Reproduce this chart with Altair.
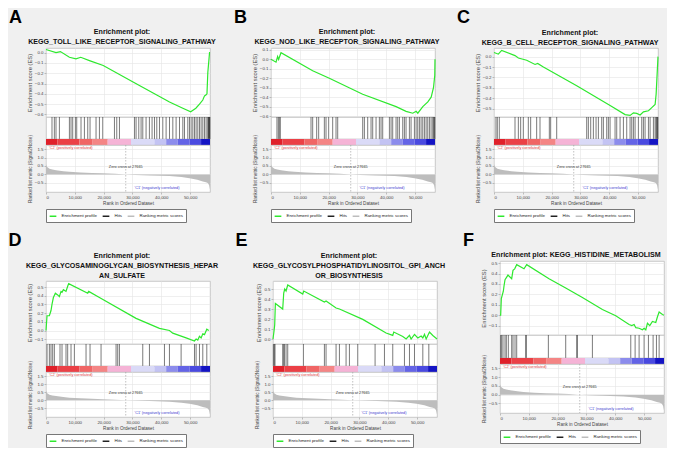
import altair as alt
import pandas as pd

FONT = "Liberation Sans"
N_GENES = 56900
ZERO_CROSS = 27665

rank_ticks = [0, 10000, 20000, 30000, 40000, 50000]
metric_ticks = [-0.5, 0.0, 0.5, 1.0, 1.5]
metric_domain = [-1.05, 1.75]

# ranked list metric (Signal2Noise) shared by all panels
metric_rank = [0, 300, 1200, 2200, 3500, 6000, 8100, 12000, 16000, 19700, 24000, 27665,
               31000, 36000, 42850, 47000, 49800, 52500, 54400, 55500, 56150, 56600, 56900]
metric_value = [0.6, 0.45, 0.34, 0.29, 0.25, 0.19, 0.15, 0.11, 0.085, 0.06, 0.03, 0.0,
                -0.03, -0.06, -0.1, -0.16, -0.23, -0.32, -0.42, -0.47, -0.52, -0.65, -0.9]

# colour bar (phenotype gradient)
bar_start = [0, 4000, 11600, 16000, 21400, 29500, 37600, 41700, 45700, 49800, 53800]
bar_end = [4000, 11600, 16000, 21400, 29500, 37600, 41700, 45700, 49800, 53800, 56900]
bar_color = ["#e0202a", "#eb4046", "#f06565", "#f48585", "#f5b3d6", "#dadaf7",
             "#c3c3f3", "#8c8cec", "#6464e6", "#4a4ae0", "#1414c4"]

SERIES = ["Enrichment profile", "Hits", "Ranking metric scores"]
SERIES_COLORS = ["#2ee82e", "#222222", "#bdbdbd"]

# annotation labels on the ranked-list panel
note_text = ["'C2' (positively correlated)", "Zero cross at 27665", "'C1' (negatively correlated)"]
note_rank = [8600, 27665, 38500]
note_metric = [1.58, 0.45, -0.8]
note_color = ["#e03c3c", "#333333", "#4040d0"]

# ---------------- panel A
A_title = ["Enrichment plot:", "KEGG_TOLL_LIKE_RECEPTOR_SIGNALING_PATHWAY"]
A_es_rank = [0, 3470, 5000, 8130, 10400, 12050, 15070, 19860, 31150, 42850, 47470, 50200,
             51990, 53250, 54400, 55000, 55560, 55850, 56150, 56740, 56900]
A_es_score = [0.03, 0.0, 0.01, -0.045, -0.06, -0.045, -0.077, -0.125, -0.30, -0.48, -0.54, -0.574,
              -0.54, -0.5, -0.46, -0.42, -0.41, -0.40, -0.19, 0.0, 0.0]
A_hits = [2080, 2900, 3470, 4650, 8120, 8680, 9270, 10200, 10660, 12150, 13330, 14480, 15280,
          17360, 18540, 19690, 23750, 24550, 25490, 30690, 31250, 32190, 32990, 33580, 34720,
          35880, 36800, 37640, 38440, 39370, 40520, 41670, 42850, 44000, 45140, 46320, 47470,
          48050, 49200, 49790, 50350, 50940, 51520, 52080, 52670, 53260, 53820, 54410, 55000,
          55560, 56150, 56300, 56450, 56600, 56750, 56850]
A_domain = [-0.625, 0.045]
A_ticks = [-0.6, -0.5, -0.4, -0.3, -0.2, -0.1, 0.0]

# ---------------- panel B
B_title = ["Enrichment plot:", "KEGG_NOD_LIKE_RECEPTOR_SIGNALING_PATHWAY"]
B_es_rank = [0, 1740, 2300, 2640, 3470, 14460, 20240, 31820, 43400, 46870, 49190, 50350,
             50930, 52670, 54420, 55570, 56370, 56820, 56900]
B_es_score = [0.0, -0.03, 0.03, 0.0, 0.07, -0.12, -0.2, -0.37, -0.5, -0.55, -0.57, -0.55,
              -0.57, -0.5, -0.45, -0.4, -0.3, -0.17, 0.0]
B_hits = [2070, 2540, 2890, 3240, 13880, 14460, 15850, 16540, 18510, 19090, 20010, 21400,
          22560, 23140, 31820, 32400, 33550, 34710, 35290, 36450, 37600, 38180, 38760, 41080,
          41660, 42230, 43390, 43970, 44550, 45710, 46290, 46860, 48020, 48600, 49760, 50340,
          50910, 51490, 52070, 52650, 53230, 53810, 54390, 54970, 55540, 56120, 56400, 56700, 56850]
B_domain = [-0.61, 0.12]
B_ticks = [-0.6, -0.5, -0.4, -0.3, -0.2, -0.1, 0.0, 0.1]

# ---------------- panel C
C_title = ["Enrichment plot:", "KEGG_B_CELL_RECEPTOR_SIGNALING_PATHWAY"]
C_es_rank = [0, 930, 1500, 2660, 7290, 8450, 11340, 14240, 15160, 17130, 28700, 40280, 45490,
             47220, 48380, 49540, 50690, 51850, 53590, 54740, 55900, 56250, 56900]
C_es_score = [0.04, 0.03, 0.025, 0.06, 0.01, -0.013, -0.035, -0.075, -0.065, -0.1, -0.28, -0.47,
              -0.557, -0.565, -0.54, -0.545, -0.56, -0.53, -0.52, -0.49, -0.46, -0.36, 0.0]
C_hits = [680, 1150, 1840, 7290, 8450, 9250, 10180, 11910, 12720, 14800, 15960, 19200, 19660,
          21750, 32160, 32740, 33550, 34480, 35410, 36220, 37370, 37950, 39110, 39690, 40270,
          42000, 42580, 43740, 44900, 46050, 47210, 47790, 48370, 48950, 50100, 51260, 51840,
          52420, 53580, 54160, 55310, 55890, 56250, 56470, 56700, 56850]
C_domain = [-0.58, 0.083]
C_ticks = [-0.5, -0.4, -0.3, -0.2, -0.1, 0.0]

# ---------------- panel D
D_title = ["Enrichment plot:", "KEGG_GLYCOSAMINOGLYCAN_BIOSYNTHESIS_HEPAR", "AN_SULFATE"]
D_es_rank = [0, 360, 1170, 1740, 2080, 2560, 3250, 4050, 4640, 5210, 5560, 6030, 6480, 6940,
             7520, 7870, 14480, 14820, 18530, 31250, 39360, 42830, 43980, 48610, 51520, 52080,
             52660, 53250, 53820, 54400, 54990, 55790, 56480]
D_es_score = [0.0, 0.17, 0.17, 0.23, 0.30, 0.38, 0.43, 0.41, 0.39, 0.45, 0.44, 0.47, 0.46, 0.45,
              0.51, 0.54, 0.43, 0.45, 0.38, 0.14, 0.025, 0.0, -0.03, -0.085, -0.12, -0.097,
              -0.11, -0.067, -0.085, -0.037, -0.047, 0.015, 0.0]
D_hits = [360, 1170, 1740, 2320, 2900, 4860, 5560, 6940, 7520, 8680, 9850, 13890, 15280, 19100,
          24310, 24880, 25470, 33570, 35890, 41100, 42830, 46880, 51520, 52080, 53250, 54400, 55790]
D_domain = [-0.155, 0.57]
D_ticks = [-0.1, 0.0, 0.1, 0.2, 0.3, 0.4, 0.5]

# ---------------- panel E
E_title = ["Enrichment plot:", "KEGG_GLYCOSYLPHOSPHATIDYLINOSITOL_GPI_ANCH", "OR_BIOSYNTHESIS"]
E_es_rank = [0, 360, 590, 820, 3370, 3720, 4070, 4530, 5110, 10320, 10660, 17840, 18410, 21880,
             23050, 31150, 39240, 41550, 41900, 45030, 46190, 47350, 47920, 49090, 50240, 51400,
             51980, 52560, 53140, 54290, 55450, 56900]
E_es_score = [0.0, 0.08, 0.14, 0.355, 0.30, 0.46, 0.50, 0.48, 0.54, 0.45, 0.48, 0.37, 0.38, 0.31,
              0.30, 0.196, 0.06, 0.036, 0.07, 0.025, 0.0, 0.036, 0.0, 0.046, 0.01, 0.03, 0.01,
              0.046, 0.0, 0.07, 0.035, 0.0]
E_hits = [130, 480, 700, 3370, 3720, 3950, 4530, 5110, 10550, 17840, 18410, 21880, 23050, 25350,
          26520, 29400, 35420, 38670, 41550, 45610, 47350, 49090, 51980, 54060]
E_domain = [-0.05, 0.58]
E_ticks = [0.0, 0.1, 0.2, 0.3, 0.4, 0.5]

# ---------------- panel F
F_title = ["Enrichment plot: KEGG_HISTIDINE_METABOLISM"]
F_es_rank = [0, 230, 460, 1160, 1390, 1740, 2780, 4050, 4510, 5090, 5790, 8330, 9260, 17010,
             22800, 28590, 35530, 40160, 44790, 45720, 46530, 47110, 48260, 49420, 50000, 50580,
             51160, 51970, 52890, 54050, 54630, 55210, 56370, 56900]
F_es_score = [0.0, 0.0, 0.16, 0.23, 0.28, 0.34, 0.385, 0.35, 0.43, 0.445, 0.485, 0.445, 0.485,
              0.35, 0.26, 0.17, 0.055, -0.006, -0.09, -0.1, -0.09, -0.12, -0.125, -0.14, -0.125,
              -0.14, -0.077, -0.1, -0.06, -0.07, -0.015, 0.03, 0.006, 0.0]
F_hits = [230, 580, 1040, 1740, 2200, 2890, 4050, 4510, 5210, 5790, 8910, 9140, 16780, 22800,
          26620, 26850, 32060, 45370, 46880, 48260, 50000, 51500, 53120, 54280, 55210]
F_domain = [-0.19, 0.52]
F_ticks = [-0.1, 0.0, 0.1, 0.2, 0.3, 0.4, 0.5]

W = 164
LINE_H = 10
color_scale = alt.Scale(domain=SERIES, range=SERIES_COLORS)


def xscale():
    return alt.Scale(domain=[0, N_GENES], nice=False, zero=False)


def mscale():
    return alt.Scale(domain=metric_domain, nice=False, zero=False)


def rank_axis():
    return alt.Axis(values=rank_ticks, format=",d", title="Rank in Ordered Dataset",
                    grid=True, labelOverlap=False)


def metric_axis():
    return alt.Axis(values=metric_ticks, format=".1f", labelOverlap=False, grid=True,
                    title="Ranked list metric (Signal2Noise)")


def panel(letter, title_lines, es_rank, es_score, es_domain, es_ticks, hits,
          es_h, hits_h, bar_h, met_h):
    # invisible spacer that reserves the room taken by the multi-line plot title,
    # so that panels in one row are aligned on their top edge
    spacer = alt.Chart(pd.DataFrame({"v": [0]})).mark_point(opacity=0).encode(
        x=alt.X("v:Q", axis=None), y=alt.Y("v:Q", axis=None)
    ).properties(width=W, height=LINE_H * len(title_lines) + 1,
                 view=alt.ViewBackground(fill="transparent", stroke="transparent"))

    es_df = pd.DataFrame({"rank": es_rank, "es": es_score, "series": SERIES[0]})
    es = alt.Chart(es_df).mark_line(strokeWidth=1.2).encode(
        x=alt.X("rank:Q", scale=xscale(),
                axis=alt.Axis(labels=False, ticks=False, domain=False, title=None,
                              values=rank_ticks, grid=True)),
        y=alt.Y("es:Q", scale=alt.Scale(domain=es_domain, nice=False, zero=False),
                axis=alt.Axis(values=es_ticks, format=".1f", title="Enrichment score (ES)",
                              titleFontSize=5.8, labelOverlap=False)),
        color=alt.Color("series:N", scale=color_scale, title=None),
    ).properties(width=W, height=es_h,
                 title=alt.TitleParams(title_lines, fontSize=7.1, font=FONT, fontWeight="bold",
                                       color="#111111", offset=2, lineHeight=LINE_H, dx=-6))

    hits_df = pd.DataFrame({"rank": hits, "series": SERIES[1]})
    hit = alt.Chart(hits_df).mark_rule(strokeWidth=0.6).encode(
        x=alt.X("rank:Q", scale=xscale(), axis=None),
        color=alt.Color("series:N", scale=color_scale, title=None),
    ).properties(width=W, height=hits_h)

    bar_df = pd.DataFrame({"start": bar_start, "end": bar_end, "c": bar_color})
    bar = alt.Chart(bar_df).mark_rect().encode(
        x=alt.X("start:Q", scale=xscale(), axis=None),
        x2="end:Q",
        fill=alt.Fill("c:N", scale=None),
    ).properties(width=W, height=bar_h)

    met_df = pd.DataFrame({"rank": metric_rank, "metric": metric_value, "series": SERIES[2]})
    area = alt.Chart(met_df).mark_area().encode(
        x=alt.X("rank:Q", scale=xscale(), axis=rank_axis()),
        y=alt.Y("metric:Q", scale=mscale(), axis=metric_axis()),
        y2=alt.datum(0),
        color=alt.Color("series:N", scale=color_scale, title=None),
    )
    zc = alt.Chart(pd.DataFrame({"rank": [ZERO_CROSS]})).mark_rule(
        strokeDash=[1.5, 1.5], color="#999999", strokeWidth=0.6).encode(
        x=alt.X("rank:Q", scale=xscale(), axis=rank_axis()))
    notes = []
    for t, r, m, c in zip(note_text, note_rank, note_metric, note_color):
        notes.append(alt.Chart(pd.DataFrame({"rank": [r], "metric": [m], "t": [t]})).mark_text(
            fontSize=3.8, font=FONT, color=c).encode(
            x=alt.X("rank:Q", scale=xscale(), axis=rank_axis()),
            y=alt.Y("metric:Q", scale=mscale(), axis=metric_axis()),
            text="t:N"))
    met = alt.layer(area, zc, *notes).properties(width=W, height=met_h)

    return alt.vconcat(spacer, es, hit, bar, met, spacing=0, bounds="flush",
                       title=alt.TitleParams(letter, anchor="start", fontSize=18, font=FONT,
                                             fontWeight="bold", color="#000000", dx=-17,
                                             offset=0)).resolve_scale(color="shared")


pA = panel("A", A_title, A_es_rank, A_es_score, A_domain, A_ticks, A_hits, 69, 22, 6, 47)
pB = panel("B", B_title, B_es_rank, B_es_score, B_domain, B_ticks, B_hits, 69, 22, 6, 47)
pC = panel("C", C_title, C_es_rank, C_es_score, C_domain, C_ticks, C_hits, 69, 22, 6, 47)
pD = panel("D", D_title, D_es_rank, D_es_score, D_domain, D_ticks, D_hits, 63, 22, 6, 45)
pE = panel("E", E_title, E_es_rank, E_es_score, E_domain, E_ticks, E_hits, 63, 22, 6, 45)
pF = panel("F", F_title, F_es_rank, F_es_score, F_domain, F_ticks, F_hits, 74, 23, 6, 49)

row1 = alt.hconcat(pA, pB, pC, spacing=16).resolve_scale(color="independent")
row2 = alt.hconcat(pD, pE, pF, spacing=16).resolve_scale(color="independent")

chart = alt.vconcat(row1, row2, spacing=8).resolve_scale(color="independent").configure(
    background="#f0f0f0", padding={"left": 0, "top": 0, "right": 0, "bottom": 0}
).configure_view(stroke="#bcbcbc", strokeWidth=0.8, fill="white").configure_axis(
    labelFontSize=4.4, titleFontSize=4.6, labelColor="#444444", titleColor="#444444",
    titleFontWeight="normal", gridColor="#e4e4e4", gridWidth=0.6, domain=False,
    tickSize=2, tickColor="#888888", tickWidth=0.5, labelPadding=1, titlePadding=2,
    labelFont=FONT, titleFont=FONT, labelOverlap=False
).configure_legend(
    orient="bottom", direction="horizontal", symbolType="stroke", symbolSize=45,
    symbolStrokeWidth=1.5, labelFontSize=4.4, labelFont=FONT, labelColor="#222222",
    strokeColor="#777777", padding=2.5, columnPadding=2, offset=3, fillColor="white"
).configure_title(font=FONT)

chart.save("out.html", embed_options={"renderer": "svg", "actions": False})
